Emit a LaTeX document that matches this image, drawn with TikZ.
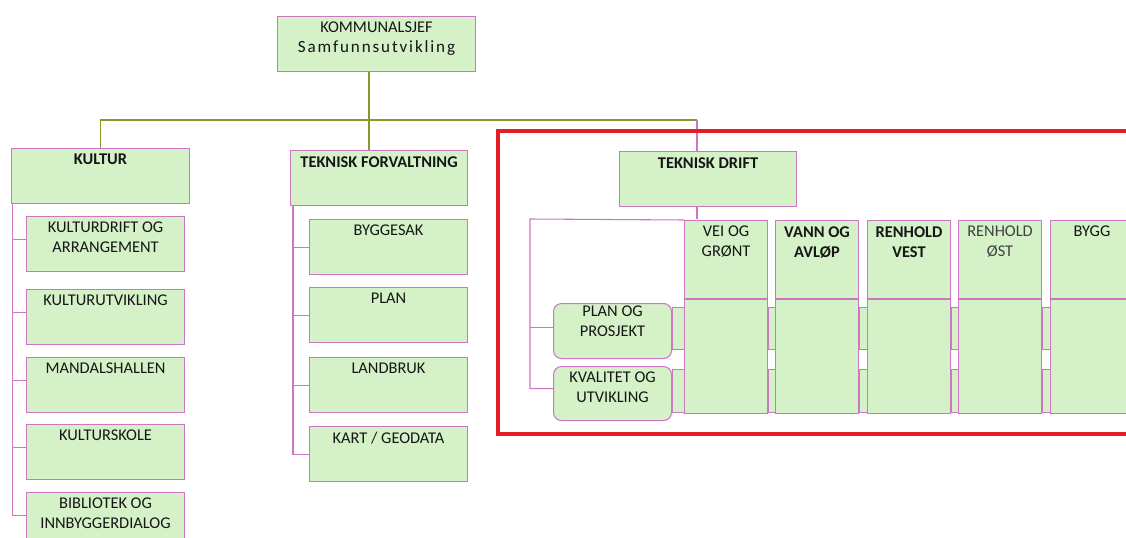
\documentclass[tikz,border=0pt]{standalone}
\usepackage{fontspec}
\setmainfont{Carlito}
\usetikzlibrary{positioning,calc}
\definecolor{boxgreen}{RGB}{212,241,200}
\definecolor{boxpink}{RGB}{204,118,196}
\definecolor{olivelink}{RGB}{132,155,44}
\definecolor{framered}{RGB}{228,30,38}
\definecolor{txtgray}{RGB}{22,22,22}
\begin{document}
\begin{tikzpicture}[x=0.75pt,y=0.75pt,yscale=-1,xscale=1,
  ubox/.style 2 args={draw=boxpink, fill=boxgreen, line width=0.8pt, inner sep=0pt, anchor=north west,
    minimum width=#1*0.75pt, minimum height=#2*0.75pt},
  lbl/.style={anchor=north, align=center, inner xsep=0pt, inner ysep=4.5pt, text=txtgray,
    font=\fontsize{12.3}{15}\selectfont},
  pinklink/.style={draw=boxpink, line width=0.8pt},
  olive/.style={draw=olivelink, line width=1pt},
  bar/.style={draw=boxpink, fill=boxgreen, line width=0.6pt}]
\clip (0,0) rectangle (1126,538);
\fill[white] (0,0) rectangle (1126,538);

%Shape: Rectangle (top)
\node[ubox={198}{55}] (top) at (277,16) {};
\node[lbl] (top-txt) at (top.north) {KOMMUNALSJEF\\{\fontsize{12.8}{15}\selectfont\addfontfeature{LetterSpace=11}Samfunnsutvikling}};

% Level two
\node[ubox={178}{55}] (kultur) at (11,148) {};
\node[lbl] (kultur-txt) at (kultur.north) {\bfseries KULTUR};
\node[ubox={177}{55}] (tf) at (290,150) {};
\node[lbl] (tf-txt) at (tf.north) {\bfseries TEKNISK FORVALTNING};
\node[ubox={177}{55}] (td) at (619,151) {};
\node[lbl] (td-txt) at (td.north) {\bfseries TEKNISK DRIFT};

%Straight Lines (olive bus)
\coordinate (bus) at (369,120);
\coordinate (tdbus) at (697,120);
\draw[olive] (top.south -| bus) -- (bus) -- (tf.north -| bus);
\draw[olive] (kultur.north) |- (tdbus);
\draw[pinklink] (tdbus) -- (td.north -| tdbus);

% Kultur
\foreach \n/\yy/\t in {k1/216/{KULTURDRIFT OG\\ARRANGEMENT}, k2/289/KULTURUTVIKLING,
    k3/357/MANDALSHALLEN, k4/424/KULTURSKOLE, k5/492/{BIBLIOTEK OG\\INNBYGGERDIALOG}}
{
  \node[ubox={158}{55}] (\n) at (26,\yy) {};
  \node[lbl] (\n-txt) at (\n.north) {\t};
  \draw[pinklink] (kultur.south west) ++(1.5,0) |- ($(\n.west)+(0,-5)$);
}

% Teknisk forvaltning
\foreach \n/\yy/\t in {t1/219/BYGGESAK, t2/287/PLAN, t3/357/LANDBRUK, t4/426/{KART / GEODATA}}
{
  \node[ubox={158}{55}] (\n) at (309,\yy) {};
  \node[lbl] (\n-txt) at (\n.north) {\t};
  \draw[pinklink] (tf.south west) ++(3,0) |- (\n.west);
}

% Teknisk drift
\foreach \n/\xx/\t in {c1/684/{VEI OG\\GRØNT}, c2/775/{\bfseries VANN OG\\\bfseries AVLØP},
    c3/867/{\bfseries RENHOLD\\\bfseries VEST}, c4/958/{\color{black!75}RENHOLD\\\color{black!75}ØST}, c5/1050/BYGG}
{
  \node[ubox={83}{78}] (\n a) at (\xx,220) {};
  \node[ubox={83}{114}, below=0pt of \n a.south west, anchor=north west] (\n b) {};
  \node[lbl] (\n-txt) at (\n a.north) {\t};
}
\node[ubox={118}{55}, rounded corners=6pt] (pp) at (553,303) {};
\node[lbl] (pp-txt) at ($(pp.north)+(0,-3)$) {PLAN OG\\PROSJEKT};
\node[ubox={118}{54}, rounded corners=6pt] (kv) at (553,366) {};
\node[lbl] (kv-txt) at (kv.north) {KVALITET OG\\UTVIKLING};

\coordinate (tdrail) at (530,219);
\draw[pinklink] (td.south -| tdbus) -- (tdbus |- tdrail);
\draw[pinklink] (c1a.north west) -- (tdrail) |- ($(kv.west)+(0,-5)$);
\draw[pinklink] (tdrail |- pp.west) ++(0,-4) -- ($(pp.west)+(0,-4)$);

% Bars between columns
\foreach \l/\r in {pp/c1b, c1b/c2b, c2b/c3b, c3b/c4b, c4b/c5b}
  \foreach \ya/\yb in {307/349, 369/412}
    \draw[bar] (\l.east |- 0,\ya) rectangle (\r.west |- 0,\yb);

%Shape: Rectangle (red frame)
\draw[framered, line width=3pt] (498,131) rectangle (1140,434);

\end{tikzpicture}
\end{document}
